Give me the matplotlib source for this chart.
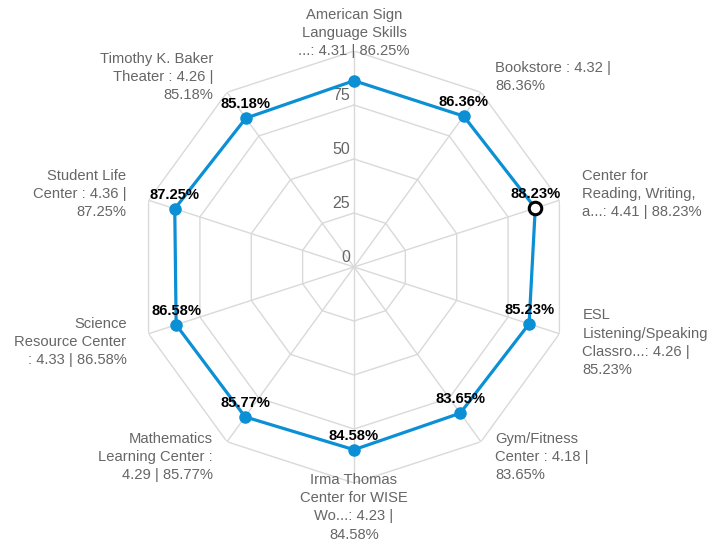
import numpy as np
import matplotlib.pyplot as plt

plt.rcParams['font.family'] = ['Liberation Sans', 'DejaVu Sans']

# survey satisfaction per service, clockwise from the top
categories = [
    "American Sign\nLanguage Skills\n...: 4.31 | 86.25%",
    "Bookstore : 4.32 |\n86.36%",
    "Center for\nReading, Writing,\na...: 4.41 | 88.23%",
    "ESL\nListening/Speaking\nClassro...: 4.26 |\n85.23%",
    "Gym/Fitness\nCenter : 4.18 |\n83.65%",
    "Irma Thomas\nCenter for WISE\nWo...: 4.23 |\n84.58%",
    "Mathematics\nLearning Center :\n4.29 | 85.77%",
    "Science\nResource Center\n: 4.33 | 86.58%",
    "Student Life\nCenter : 4.36 |\n87.25%",
    "Timothy K. Baker\nTheater : 4.26 |\n85.18%",
]
percent = [86.25, 86.36, 88.23, 85.23, 83.65, 84.58, 85.77, 86.58, 87.25, 85.18]
ring_ticks = [0, 25, 50, 75, 100]
highlight = 2      # the point drawn as a hollow marker
hidden_labels = [0]  # value label that would collide with the "75" tick

# label placement around the outer ring: (dx, dy) in pixels, ha, va
label_pos = [
    ((0, -7), 'center', 'bottom'),
    ((14, -1), 'left', 'bottom'),
    ((23, 6), 'left', 'center'),
    ((23, -9), 'left', 'center'),
    ((14, 10), 'left', 'top'),
    ((0, 10), 'center', 'top'),
    ((-14, 10), 'right', 'top'),
    ((-22, -8), 'right', 'center'),
    ((-22, 6), 'right', 'center'),
    ((-14, -10), 'right', 'bottom'),
]

n = len(categories)
theta = np.arange(n) * 2 * np.pi / n
line_color = '#0b8fd5'
grid_color = '#d9d9d9'

fig = plt.figure(figsize=(7.08, 5.49), dpi=100)
ax = fig.add_axes([0.1949, 0.1202, 0.6102, 0.7869], projection='polar')
ax.set_theta_zero_location('N')
ax.set_theta_direction(-1)
ax.set_ylim(0, 100)
ax.grid(False)
ax.spines['polar'].set_visible(False)
ax.set_xticks([])
ax.set_yticks([])

# polygon grid rings and spokes
closed = np.append(theta, theta[0])
for r in ring_ticks[1:]:
    ax.plot(closed, [r] * (n + 1), color=grid_color, lw=1, zorder=1)
for t in theta:
    ax.plot([t, t], [0, 100], color=grid_color, lw=1, zorder=1)

for r in ring_ticks[:-1]:
    ax.annotate(str(r), (0, r), xytext=(-4, 2), textcoords='offset pixels',
                ha='right', va='bottom', fontsize=11.5, color='#666666')

vals = np.append(percent, percent[0])
ax.plot(closed, vals, color=line_color, lw=2.3, zorder=3)
for i, (t, v) in enumerate(zip(theta, percent)):
    if i == highlight:
        ax.plot(t, v, 'o', ms=9, mfc='white', mec='black', mew=2.2, zorder=5)
    else:
        ax.plot(t, v, 'o', ms=8, color=line_color, zorder=4)
    if i in hidden_labels:
        continue
    ax.annotate(f"{v:.2f}%", (t, v), xytext=(0, 7), textcoords='offset pixels',
                ha='center', va='bottom', fontsize=10.6, fontweight='bold',
                color='black', zorder=6)

for t, lab, (off, ha, va) in zip(theta, categories, label_pos):
    ax.annotate(lab, (t, 100), xytext=off, textcoords='offset pixels',
                ha=ha, va=va, fontsize=10.6, color='#666666',
                multialignment=ha,
                linespacing=1.38, annotation_clip=False)

fig.savefig('out.png', dpi=100)
